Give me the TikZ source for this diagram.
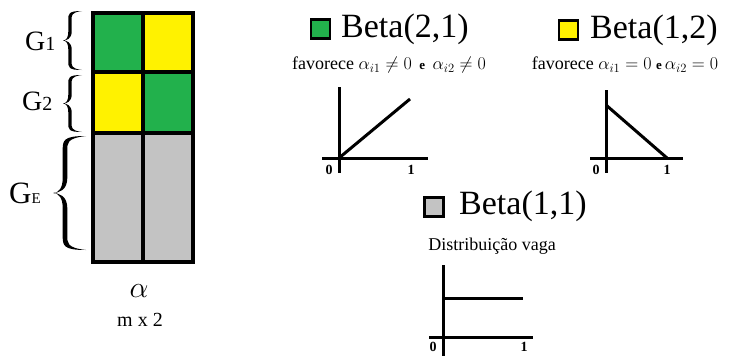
\RequirePackage{fix-cm}
\documentclass[tikz,border=0pt]{standalone}
\usepackage{fontspec}
\setmainfont{Liberation Serif}
\definecolor{cgreen}{HTML}{22B14C}
\definecolor{cyellow}{HTML}{FFF200}
\definecolor{cgray}{HTML}{C3C3C3}
\newcommand\myandfont{\fontsize{13}{14}\selectfont\bfseries}
\begin{document}
\begin{tikzpicture}[x=1pt,y=-1pt,
  cell/.style={draw=black, line width=4pt, minimum width=50pt, inner sep=0pt, outer sep=0pt},
  legsq/.style={draw=black, line width=2.5pt, minimum size=19pt, inner sep=0pt},
  betatxt/.style={anchor=west, inner sep=0pt, font=\fontsize{34}{36}\selectfont},
  subtxt/.style={inner sep=0pt, font=\fontsize{18}{20}\selectfont},
  axis/.style={line width=3pt},
  curve/.style={line width=3pt},
  axlab/.style={inner sep=0pt, font=\fontsize{14}{15}\selectfont\bfseries},
  glab/.style={inner sep=0pt, anchor=base west}
]
\useasboundingbox (0,0) rectangle (730,356);
% matrix
\node[cell, fill=cgreen, minimum height=59pt] (c11) at (118,42.5) {};
\node[cell, fill=cyellow, minimum height=59pt] (c12) at (168,42.5) {};
\node[cell, fill=cyellow, minimum height=61pt] (c21) at (118,102.5) {};
\node[cell, fill=cgreen, minimum height=61pt] (c22) at (168,102.5) {};
\node[cell, fill=cgray, minimum height=129pt] (c31) at (118,197.5) {};
\node[cell, fill=cgray, minimum height=129pt] (c32) at (168,197.5) {};
% braces (drawn shapes)
\foreach \xr/\xm/\xl/\yt/\yb/\a/\t in {82/70/63/11/70/9/1.7, 82/70/63/75/132/9/1.7, 86/65/53/136/250/15/2.3}{
  \pgfmathsetmacro\ym{(\yt+\yb)/2}
  \pgfmathsetmacro\xh{(\xm+\xl)/2}
  \fill[black]
    (\xr,\yt) .. controls (\xm-\t,\yt) and (\xm-\t,\yt+0.3*\a) .. (\xm-\t,\yt+\a)
    -- (\xm-\t,\ym-\a) .. controls (\xm-\t,\ym-0.35*\a) and (\xh,\ym) .. (\xl,\ym)
    .. controls (\xh,\ym) and (\xm-\t,\ym+0.35*\a) .. (\xm-\t,\ym+\a)
    -- (\xm-\t,\yb-\a) .. controls (\xm-\t,\yb-0.3*\a) and (\xm-\t,\yb) .. (\xr,\yb)
    .. controls (\xm+0.5*\t,\yb-0.15*\a) and (\xm+\t,\yb-0.5*\a) .. (\xm+\t,\yb-\a)
    -- (\xm+\t,\ym+\a) .. controls (\xm+\t,\ym+0.2*\a) and (\xh,\ym) .. (\xl,\ym)
    .. controls (\xh,\ym) and (\xm+\t,\ym-0.2*\a) .. (\xm+\t,\ym-\a)
    -- (\xm+\t,\yt+\a) .. controls (\xm+\t,\yt+0.5*\a) and (\xm+0.5*\t,\yt+0.15*\a) .. (\xr,\yt)
    -- cycle;
}
% group labels
\node[glab] (g1) at (25,50) {\fontsize{28}{30}\selectfont G\fontsize{20}{22}\selectfont 1};
\node[glab] (g2) at (22,110) {\fontsize{28}{30}\selectfont G\fontsize{20}{22}\selectfont 2};
\node[glab] (ge) at (9,203) {\fontsize{31}{33}\selectfont G\fontsize{15}{17}\selectfont E};
% alpha
\node[inner sep=0pt, font=\fontsize{30}{32}\selectfont] (alpha) at (139,291) {$\alpha$};
\node[inner sep=0pt, font=\fontsize{20}{22}\selectfont] (mx2) at (140,320) {m x 2};
% Beta(2,1)
\node[legsq, fill=cgreen] (sq1) at (320.5,29) {};
\node[betatxt] (t1) at (341,29) {Beta(2,1)};
\node[subtxt] (s1) at (389,65) {favorece $\alpha_{i1}\neq 0$ \,{\myandfont e}\, $\alpha_{i2}\neq 0$};
\coordinate (v1) at (339,87);
\coordinate (v1b) at (339,173);
\coordinate (h1a) at (322,158);
\coordinate (h1b) at (428,158);
\coordinate (o1) at (339,158);
\coordinate (p1) at (410,99);
\draw[axis] (v1) -- (v1b);
\draw[axis] (h1a) -- (h1b);
\draw[curve] (o1) -- (p1);
\node[axlab] (z1) at (329,170) {0};
\node[axlab] (u1) at (411,170) {1};
% Beta(1,2)
\node[legsq, fill=cyellow] (sq2) at (568.5,30) {};
\node[betatxt] (t2) at (590,30) {Beta(1,2)};
\node[subtxt] (s2) at (625,65) {favorece $\alpha_{i1}= 0$ {\myandfont e}$\,\alpha_{i2}= 0$};
\coordinate (v2) at (606,90);
\coordinate (v2b) at (606,173);
\coordinate (h2a) at (590,158);
\coordinate (h2b) at (683,158);
\coordinate (q2) at (606,105);
\coordinate (p2) at (667,158);
\draw[axis] (v2) -- (v2b);
\draw[axis] (h2a) -- (h2b);
\draw[curve] (q2) -- (p2);
\node[axlab] (z2) at (596,170) {0};
\node[axlab] (u2) at (667,170) {1};
% Beta(1,1)
\node[legsq, fill=cgray] (sq3) at (434,207) {};
\node[betatxt] (t3) at (459,206) {Beta(1,1)};
\node[subtxt] (s3) at (492,246) {Distribuição vaga};
\coordinate (v3) at (443,265);
\coordinate (v3b) at (443,356);
\coordinate (h3a) at (429,337);
\coordinate (h3b) at (533,337);
\coordinate (q3) at (443,298);
\coordinate (p3) at (523,298);
\draw[axis] (v3) -- (v3b);
\draw[axis] (h3a) -- (h3b);
\draw[curve] (q3) -- (p3);
\node[axlab] (z3) at (433,347) {0};
\node[axlab] (u3) at (524,347) {1};
\end{tikzpicture}
\end{document}
